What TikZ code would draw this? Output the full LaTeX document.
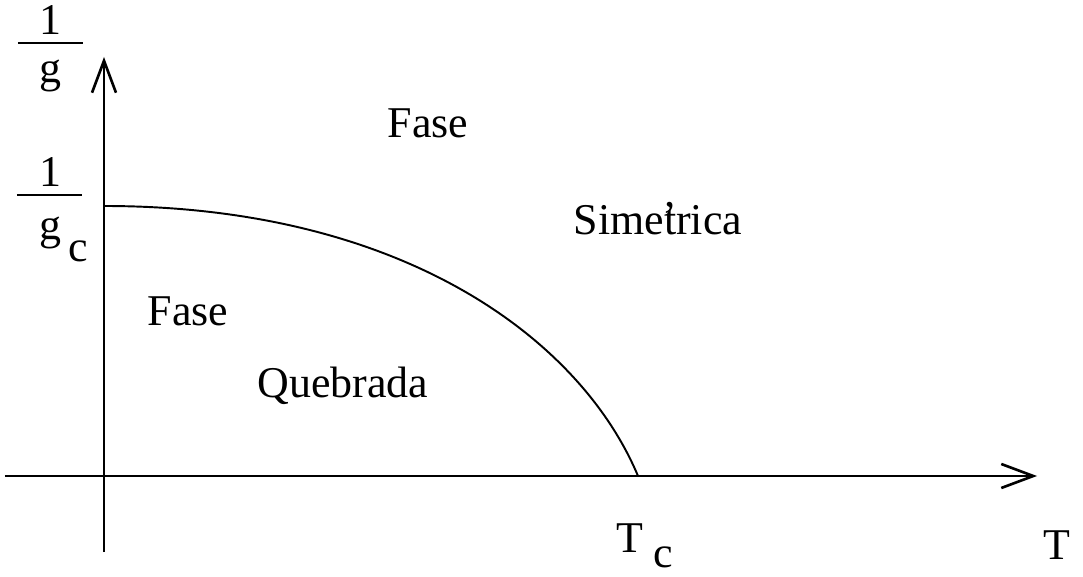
\documentclass[tikz,border=0pt]{standalone}
\usepackage{fontspec}
\setmainfont{Liberation Serif}
\usetikzlibrary{arrows.meta, positioning}
\tikzset{
  lbl/.style={anchor=base, inner sep=0pt,
              font=\fontsize{25}{30}\selectfont},
  axis/.style={line width=1.5pt,
               -{Straight Barb[length=0.64cm, width=0.48cm]}},
  bar/.style={line width=1.5pt},
  crit/.style={line width=1.1pt},
}

\begin{document}
\begin{tikzpicture}
    \useasboundingbox (-2.08,-2.0) rectangle (19.58,9.52);
    %% axes
    \coordinate (xs) at (-1.98,0);
    \coordinate (xe) at (18.66,0);
    \coordinate (ys) at (0,-1.52);
    \coordinate (ye) at (0,8.38);
    \draw[axis] (xs) -- (xe);
    \draw[axis] (ys) -- (ye);
    %% critical line
    \coordinate (gc) at (0,5.4);
    \coordinate (tc) at (10.68,0);
    \draw[crit] (gc) .. controls (6,5.4) and (9.54,2.72) .. (tc);
    %% 1/g and 1/g_c
    \node[lbl] (oneA) at (-1.08,8.82) {1};
    \draw[bar] (-1.72,8.66) -- (-0.42,8.66);
    \node[lbl] (gA)   at (-1.08,7.86) {g};
    \node[lbl] (oneB) at (-1.08,5.78) {1};
    \draw[bar] (-1.74,5.62) -- (-0.44,5.62);
    \node[lbl] (gB)   at (-1.08,4.72) {g};
    \node[lbl] (cB)   at (-0.52,4.28) {c};
    %% regions
    \node[lbl] (faseS) at (6.48,6.76) {Fase};
    \node[lbl] (sim)   at (11.08,4.82)
        {Sime\makebox[0pt][l]{\kern-0.04em\raisebox{0.08em}{\char"2019}}trica};
    \node[lbl] (faseQ) at (1.68,3.0)  {Fase};
    \node[lbl] (queb)  at (4.78,1.56) {Quebrada};
    %% T labels
    \node[lbl] (tcT) at (10.52,-1.52) {T};
    \node[lbl] (tcC) at (11.18,-1.82) {c};
    \node[lbl] (tT)  at (19.06,-1.66) {T};
\end{tikzpicture}
\end{document}
